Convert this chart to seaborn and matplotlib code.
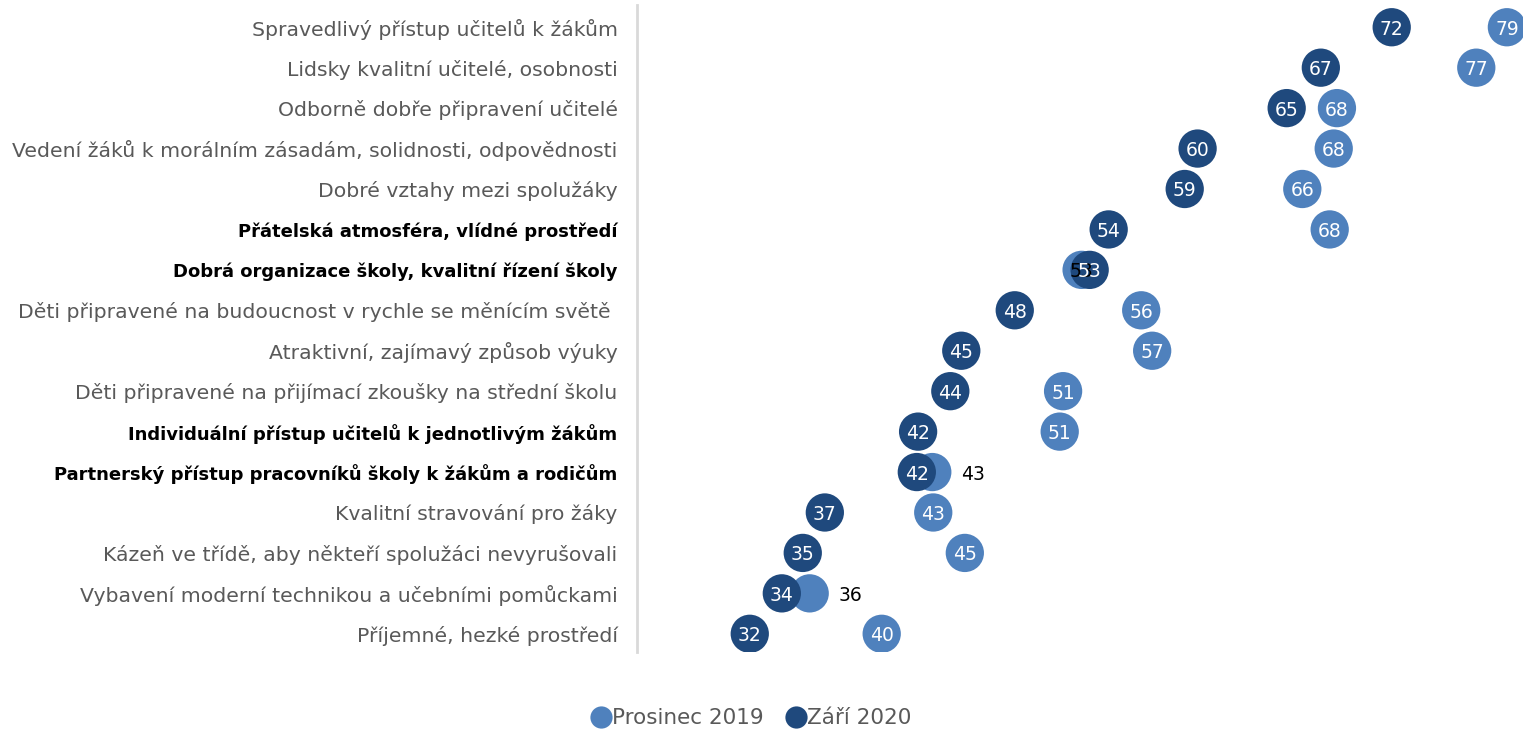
import matplotlib
matplotlib.use("Agg")
import matplotlib.pyplot as plt
from matplotlib.lines import Line2D
import seaborn as sns
import pandas as pd

categories = [
    "Spravedlivý přístup učitelů k žákům",
    "Lidsky kvalitní učitelé, osobnosti",
    "Odborně dobře připravení učitelé",
    "Vedení žáků k morálním zásadám, solidnosti, odpovědnosti",
    "Dobré vztahy mezi spolužáky",
    "Přátelská atmosféra, vlídné prostředí",
    "Dobrá organizace školy, kvalitní řízení školy",
    "Děti připravené na budoucnost v rychle se měnícím světě ",
    "Atraktivní, zajímavý způsob výuky",
    "Děti připravené na přijímací zkoušky na střední školu",
    "Individuální přístup učitelů k jednotlivým žákům",
    "Partnerský přístup pracovníků školy k žákům a rodičům",
    "Kvalitní stravování pro žáky",
    "Kázeň ve třídě, aby někteří spolužáci nevyrušovali",
    "Vybavení moderní technikou a učebními pomůckami",
    "Příjemné, hezké prostředí",
]
bold_categories = [
    "Přátelská atmosféra, vlídné prostředí",
    "Dobrá organizace školy, kvalitní řízení školy",
    "Individuální přístup učitelů k jednotlivým žákům",
    "Partnerský přístup pracovníků školy k žákům a rodičům",
]
prosinec_2019 = [79.0, 77.1, 68.45, 68.25, 66.3, 68.0, 52.6, 56.3, 56.98, 51.45,
                 51.24, 43.33, 43.39, 45.35, 35.72, 40.19]
zari_2020 = [71.85, 67.45, 65.33, 59.8, 59.0, 54.28, 53.1, 48.45, 45.13, 44.45,
             42.45, 42.37, 36.66, 35.29, 33.99, 32.0]
series_names = ["Prosinec 2019", "Září 2020"]
series_colors = ["#4F81BD", "#1F497D"]
# light-series labels placed outside the bubble (overlapping points)
outside_label_rows = [
    "Partnerský přístup pracovníků školy k žákům a rodičům",
    "Vybavení moderní technikou a učebními pomůckami",
]
center_dark_label_rows = ["Dobrá organizace školy, kvalitní řízení školy"]

sns.set_theme(style="white")
plt.rcParams['font.family'] = ['DejaVu Sans']

df = pd.concat([
    pd.DataFrame({"kategorie": categories, "hodnota": prosinec_2019, "obdobi": series_names[0]}),
    pd.DataFrame({"kategorie": categories, "hodnota": zari_2020, "obdobi": series_names[1]}),
], ignore_index=True)
palette = dict(zip(series_names, series_colors))

fig = plt.figure(figsize=(15.23, 7.30), dpi=100)
ax = fig.add_axes([637 / 1523, 1 - 652 / 730, 1 - 637 / 1523, (652 - 5) / 730])

sns.scatterplot(data=df, x="hodnota", y="kategorie", hue="obdobi", hue_order=series_names,
                palette=palette, s=760, linewidth=0, alpha=1, ax=ax, legend=False, zorder=3)

pos = {c: i for i, c in enumerate(categories)}
for _, r in df.iterrows():
    y = pos[r["kategorie"]]
    lbl = f"{r['hodnota']:.0f}"
    if r["obdobi"] == series_names[0] and r["kategorie"] in outside_label_rows:
        ax.annotate(lbl, (r["hodnota"], y), xytext=(29, 0), textcoords="offset points",
                    ha="center", va="center_baseline", color="black", fontsize=13.5, zorder=5)
    elif r["obdobi"] == series_names[0] and r["kategorie"] in center_dark_label_rows:
        ax.text(r["hodnota"], y, lbl, ha="center", va="center_baseline", color="black",
                fontsize=13.5, zorder=4)
    else:
        ax.text(r["hodnota"], y, lbl, ha="center", va="center_baseline", color="white",
                fontsize=13.5, zorder=5)

ax.set_xlim(25, 80)
ax.set_ylim(len(categories) - 0.55, -0.55)
ax.set_yticks(range(len(categories)))
ax.set_yticklabels(categories)
for t in ax.get_yticklabels():
    if t.get_text() in bold_categories:
        t.set_fontweight("bold")
        t.set_color("black")
        t.set_fontsize(13)
    else:
        t.set_color("#595959")
        t.set_fontsize(14.7)
ax.tick_params(axis="y", length=0, pad=14)
ax.set_xticks([])
ax.set_xlabel("")
ax.set_ylabel("")
for s in ["top", "right", "bottom"]:
    ax.spines[s].set_visible(False)
ax.spines["left"].set_color("#D9D9D9")
ax.spines["left"].set_linewidth(2)

handles = [Line2D([0], [0], marker="o", linestyle="", markersize=16, markerfacecolor=c,
                  markeredgewidth=0) for c in series_colors]
leg = fig.legend(handles, series_names, loc="lower center", bbox_to_anchor=(0.493, -0.024),
                 ncol=2, frameon=False, handletextpad=0.0, columnspacing=1.0, fontsize=15.5,
                 handlelength=1.0)
for t in leg.get_texts():
    t.set_color("#595959")

fig.savefig("out.png", dpi=100)
